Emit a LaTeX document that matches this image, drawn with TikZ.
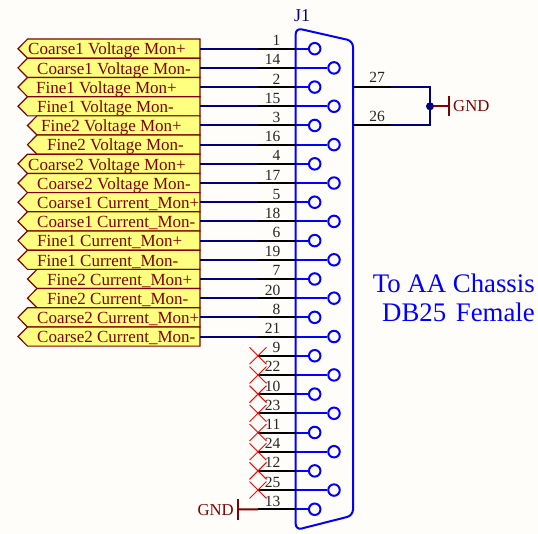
\documentclass[tikz,border=0pt]{standalone}
\usepackage{fontspec}
\setmainfont{Liberation Serif}
\usetikzlibrary{shapes.misc}
\definecolor{paper}{HTML}{FFFDF9}
\definecolor{portfill}{HTML}{FFFF80}
\definecolor{portred}{HTML}{800000}
\definecolor{netblue}{HTML}{000080}
\definecolor{pinblue}{HTML}{0000FF}

\begin{document}
\begin{tikzpicture}[x=1pt,y=-1pt,
                    netwire/.style={draw=netblue,line width=2pt},
                    pinwire/.style={draw=black,line width=2pt},
                    stubwire/.style={draw=pinblue,line width=2pt},
                    pwrwire/.style={draw=portred,line width=2pt},
                    portbox/.style={draw=portred,fill=portfill,line width=1.2pt},
                    porttext/.style={text=portred,anchor=base west,inner sep=0pt,font=\fontsize{17}{17}\selectfont},
                    pwrtext/.style={text=portred,inner sep=0pt,font=\fontsize{16.7}{17}\selectfont},
                    pinnum/.style={anchor=base east,inner sep=0pt,text=black!85,font=\fontsize{15.5}{16}\selectfont},
                    pinhole/.style={circle,draw=pinblue,fill=paper,line width=2pt,minimum size=11.5pt,inner sep=0pt},
                    noconn/.style={cross out,draw=red,line width=0.9pt,minimum size=16pt,inner sep=0pt},
                    chassis/.style={text=pinblue,anchor=base east,inner sep=0pt,font=\fontsize{26.8}{27}\selectfont}]
  \fill[paper] (0,0) rectangle (538,534);
  \useasboundingbox (0,0) rectangle (538,534);

  % Connector shell
  \draw[draw=pinblue,line width=2pt,rounded corners=6pt]
    (295.7,28) -- (353,41) -- (353,515.5) -- (295.7,530) -- cycle;
  \node[text=netblue,anchor=base west,inner sep=0pt,font=\fontsize{18}{18}\selectfont] (J1) at (294,22) {J1};

  % Pins
  \foreach \r/\num/\px in {0/1/314.7,1/14/334,2/2/314.7,3/15/334,4/3/314.7,5/16/334,6/4/314.7,7/17/334,
                           8/5/314.7,9/18/334,10/6/314.7,11/19/334,12/7/314.7,13/20/334,14/8/314.7,15/21/334,
                           16/9/314.7,17/22/334,18/10/314.7,19/23/334,20/11/314.7,21/24/334,22/12/314.7,23/25/334,24/13/314.7}{
    \pgfmathsetmacro{\rowy}{48.7+19.19*\r}
    \coordinate (wb\r) at (258,\rowy);
    \coordinate (wc\r) at (295.7,\rowy);
    \node[pinhole] (pin\r) at (\px,\rowy) {};
    \draw[pinwire] (wb\r) -- (wc\r);
    \draw[stubwire] (wc\r) -- (pin\r);
    \node[pinnum] (num\r) at (280.5,\rowy-3) {\num};
  }

  % Net labels
  \foreach \r/\tip/\tx/\txt in {0/18/28/Coarse1 Voltage Mon+,1/18/37/Coarse1 Voltage Mon-,
                                2/18/36/Fine1 Voltage Mon+,3/18/37/Fine1 Voltage Mon-,
                                4/27.5/41/Fine2 Voltage Mon+,5/27.5/47/Fine2 Voltage Mon-,
                                6/18/28/Coarse2 Voltage Mon+,7/18/37/Coarse2 Voltage Mon-,
                                8/18/37/Coarse1 Current\_Mon+,9/18/37/Coarse1 Current\_Mon-,
                                10/18/37/Fine1 Current\_Mon+,11/18/37/Fine1 Current\_Mon-,
                                12/27.5/47/Fine2 Current\_Mon+,13/27.5/47/Fine2 Current\_Mon-,
                                14/18/37/Coarse2 Current\_Mon+,15/18/37/Coarse2 Current\_Mon-}{
    \pgfmathsetmacro{\rowy}{48.7+19.19*\r}
    \draw[portbox] (200,\rowy-9.6) -- (\tip+9.5,\rowy-9.6) -- (\tip,\rowy) -- (\tip+9.5,\rowy+9.6) -- (200,\rowy+9.6) -- cycle;
    \node[porttext] (port\r) at (\tx,\rowy+6.3) {\txt};
    \coordinate (wa\r) at (200,\rowy);
    \draw[netwire] (wa\r) -- (wb\r);
  }

  % Not connected
  \foreach \r in {16,...,23}{
    \node[noconn] (nc\r) at (wb\r) {};
  }

  % Ground on 13
  \coordinate (gndbar) at (238,509.3);
  \draw[pwrwire] (gndbar) -- (wb24);
  \draw[pinwire] (wb24) -- (wc24);
  \draw[pwrwire] (238,499) -- (238,519.5);
  \node[pwrtext,anchor=base east] (gndL) at (234,515) {GND};

  % Pins 26 and 27
  \coordinate (pa) at (353,87.1);
  \coordinate (pb) at (391,87.1);
  \coordinate (pc) at (430,87.1);
  \coordinate (qa) at (353,125.5);
  \coordinate (qb) at (391,125.5);
  \coordinate (qc) at (430,125.5);
  \coordinate (jn) at (430,106.3);
  \coordinate (gndtop) at (449,106.3);
  \draw[pinwire] (pa) -- (pb);
  \draw[pinwire] (qa) -- (qb);
  \draw[netwire] (pb) -- (pc) -- (qc) -- (qb);
  \draw[pwrwire] (jn) -- (gndtop);
  \draw[pwrwire] (449,96) -- (449,116.5);
  \fill[netblue] (jn) circle (4pt);
  \node[pinnum] (num27) at (385,83) {27};
  \node[pinnum] (num26) at (385,121.5) {26};
  \node[pwrtext,anchor=base west] (gndR) at (453,112) {GND};

  % Side note
  \node[chassis] (noteA) at (535,292.5) {To AA Chassis};
  \node[chassis] (noteB) at (535,321.5) {DB25\hspace{3pt} Female};
\end{tikzpicture}
\end{document}
